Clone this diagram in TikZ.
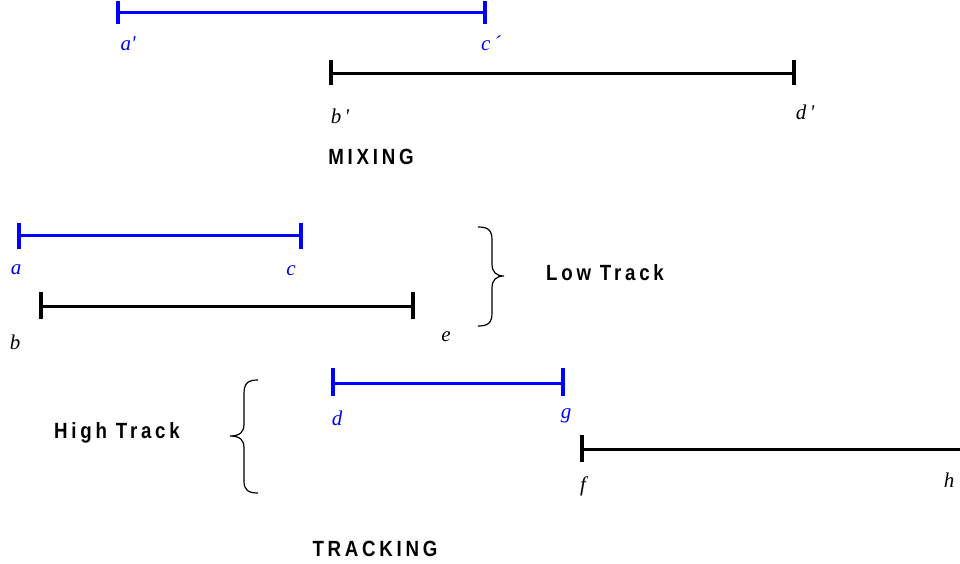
\documentclass[tikz,border=0pt]{standalone}
\usepackage{fontspec}
\newfontfamily\labfont{Liberation Serif}
\newfontfamily\titfont[LetterSpace=17,FakeStretch=0.85]{Liberation Sans Bold}
\definecolor{segblue}{RGB}{0,0,255}
\tikzset{
  seg/.style={line width=3pt},
  tick/.style={line width=3.4pt},
  lab/.style={font=\labfont\itshape\fontsize{21}{21}\selectfont, inner sep=0pt},
  tit/.style={font=\titfont\fontsize{22}{22}\selectfont, inner sep=0pt},
  brc/.style={line width=1.2pt},
}
\begin{document}
\begin{tikzpicture}[x=1pt,y=-1pt]
\useasboundingbox (0,0) rectangle (960,564);
% MIXING
\coordinate (ap) at (118,13); \coordinate (cp) at (485,13);
\coordinate (bp) at (331,74); \coordinate (dp) at (794,74);
\draw[seg,segblue] (ap) -- (cp);
\draw[tick,segblue] ([yshift=-11pt]ap) -- ([yshift=12pt]ap);
\draw[tick,segblue] ([yshift=-11pt]cp) -- ([yshift=12pt]cp);
\draw[seg] (bp) -- (dp);
\draw[tick] ([yshift=-11pt]bp) -- ([yshift=14pt]bp);
\draw[tick] ([yshift=-11pt]dp) -- ([yshift=14pt]dp);
\node[lab,text=segblue] (lap) at (128,44) {a'};
\node[lab,text=segblue] (lcp) at (491,43) {c\,´};
\node[lab] (lbp) at (340,116) {b\,'};
\node[lab] (ldp) at (805,112) {d\,'};
\node[tit] (mix) at (371,157) {MIXING};
% Low track
\coordinate (a) at (19,235); \coordinate (c) at (301,235);
\coordinate (b) at (41,306); \coordinate (e) at (413,306);
\draw[seg,segblue] (a) -- (c);
\draw[tick,segblue] ([yshift=-14pt]a) -- ([yshift=12pt]a);
\draw[tick,segblue] ([yshift=-14pt]c) -- ([yshift=12pt]c);
\draw[seg] (b) -- (e);
\draw[tick] ([yshift=-13pt]b) -- ([yshift=14pt]b);
\draw[tick] ([yshift=-13pt]e) -- ([yshift=14pt]e);
\node[lab,text=segblue] (la) at (16,270) {a};
\node[lab,text=segblue] (lc) at (291,271) {c};
\node[lab] (lb) at (15,342) {b};
\node[lab] (le) at (446,337) {e};
\coordinate (lt1) at (478,227); \coordinate (lttip) at (504,276); \coordinate (lt2) at (478,326);
\draw[brc] (lt1) .. controls (488,227) and (492,230) .. (492,240) -- (492,264)
  .. controls (492,272) and (496,276) .. (lttip)
  .. controls (496,276) and (492,280) .. (492,288) -- (492,313)
  .. controls (492,323) and (488,326) .. (lt2);
\node[tit] (low) at (605,273) {Low Track};
% High track
\coordinate (d) at (333,383); \coordinate (g) at (563,383);
\coordinate (f) at (582,449); \coordinate (h) at (960,449);
\draw[seg,segblue] (d) -- (g);
\draw[tick,segblue] ([yshift=-13pt]d) -- ([yshift=15pt]d);
\draw[tick,segblue] ([yshift=-13pt]g) -- ([yshift=15pt]g);
\draw[seg] (f) -- (h);
\draw[tick] ([yshift=-13pt]f) -- ([yshift=14pt]f);
\node[lab,text=segblue] (ld) at (337,418) {d};
\node[lab,text=segblue] (lg) at (566,416) {g};
\node[lab] (lf) at (583,486) {f};
\node[lab] (lh) at (949,480) {h};
\coordinate (ht1) at (258,380); \coordinate (httip) at (230,436); \coordinate (ht2) at (258,493);
\draw[brc] (ht1) .. controls (248,380) and (244,383) .. (244,394) -- (244,424)
  .. controls (244,432) and (240,436) .. (httip)
  .. controls (240,436) and (244,440) .. (244,448) -- (244,481)
  .. controls (244,490) and (248,493) .. (ht2);
\node[tit] (high) at (117,433) {High Track};
\node[tit] (trk) at (375,549) {TRACKING};
\end{tikzpicture}
\end{document}
